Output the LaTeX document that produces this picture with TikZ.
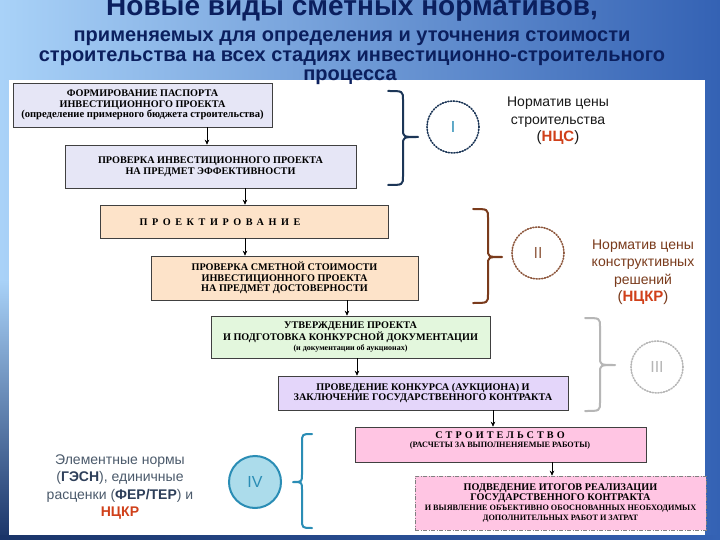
\documentclass[tikz,border=0pt]{standalone}
\usepackage{fontspec}
\setmainfont{Liberation Serif}
\newfontfamily\arialf{Liberation Sans}
\usetikzlibrary{arrows.meta}
\definecolor{bgL}{HTML}{A9D2F8}
\definecolor{bgR}{HTML}{3462B4}
\definecolor{bgD}{HTML}{1A3468}
\definecolor{titleblue}{HTML}{0B1F5E}
\definecolor{lav}{HTML}{E6E6F6}
\definecolor{peach}{HTML}{FDE3C9}
\definecolor{mint}{HTML}{E3F7DD}
\definecolor{lilac}{HTML}{E4D6FA}
\definecolor{pinkb}{HTML}{FFC5E3}
\definecolor{navyb}{HTML}{1C3657}
\definecolor{brownb}{HTML}{7A3B1C}
\definecolor{greyb}{HTML}{B6B6B6}
\definecolor{tealb}{HTML}{2A8DB5}
\definecolor{tealfill}{HTML}{ACDCEB}
\definecolor{redt}{HTML}{D0401A}
\definecolor{slate}{HTML}{4B5A6B}
\definecolor{slated}{HTML}{2E3F5A}
\newcommand{\bxf}{\fontsize{10.2}{10.6}\selectfont\bfseries}
\newcommand{\smf}{\fontsize{8.2}{9}\selectfont\bfseries}
\tikzset{
  boxst/.style={draw=black!75, line width=0.6pt, inner sep=1pt, align=center, font=\bxf},
  arr/.style={-{Stealth[length=5pt,width=4.5pt]}, line width=0.6pt, black},
  sub/.style={anchor=base, text=titleblue, font=\arialf\bfseries\fontsize{20}{22}\selectfont},
  bracest/.style={line width=2pt, line cap=round, line join=round},
  numc/.style={circle, minimum size=52pt, inner sep=0pt, font=\arialf\fontsize{16}{18}\selectfont},
  dotc/.style={dash pattern=on 1.2pt off 1.6pt, line width=1.6pt, line cap=round},
  sidet/.style={align=center, font=\arialf\fontsize{14}{17.5}\selectfont}
}
\begin{document}
\begin{tikzpicture}[x=1pt,y=-1pt]
\useasboundingbox (0,0) rectangle (720,540);
\shade[left color=bgL, right color=bgR] (0,0) rectangle (720,540);
\shade[top color=bgL, bottom color=bgD] (0,280) rectangle (9,540);
\shade[left color=bgD, right color=bgR] (0,535) rectangle (720,540);
\fill[white] (9,80) rectangle (705,535);

% title
\node[anchor=base, text=titleblue, font=\arialf\bfseries\fontsize{28}{30}\selectfont] (title) at (352,16) {Новые виды сметных нормативов,};
\node[sub] (s1) at (352,42) {применяемых для определения и уточнения стоимости};
\node[sub] (s2) at (352,61.5) {строительства на всех стадиях инвестиционно-строительного};
\node[sub] (s3) at (350,81) {процесса};

% boxes
\node[boxst, fill=lav, minimum width=259pt, minimum height=44pt] (b1) at (142.5,105)
  {ФОРМИРОВАНИЕ ПАСПОРТА\\ИНВЕСТИЦИОННОГО ПРОЕКТА\\\fontsize{10.6}{10.6}\selectfont (определение примерного бюджета строительства)};
\node[boxst, fill=lav, minimum width=291pt, minimum height=43pt] (b2) at (210.5,166.5)
  {ПРОВЕРКА ИНВЕСТИЦИОННОГО ПРОЕКТА\\НА ПРЕДМЕТ ЭФФЕКТИВНОСТИ};
\node[boxst, fill=peach, minimum width=288pt, minimum height=33pt] (b3) at (244,221.5) {};
\node[font=\bxf\addfontfeature{LetterSpace=45}] (b3t) at (220,222) {ПРОЕКТИРОВАНИЕ};
\node[boxst, fill=peach, minimum width=267pt, minimum height=44pt] (b4) at (284.5,278)
  {ПРОВЕРКА СМЕТНОЙ СТОИМОСТИ\\ИНВЕСТИЦИОННОГО ПРОЕКТА\\НА ПРЕДМЕТ ДОСТОВЕРНОСТИ};
\node[boxst, fill=mint, minimum width=279pt, minimum height=42pt] (b5) at (350.5,337)
  {УТВЕРЖДЕНИЕ ПРОЕКТА\\И ПОДГОТОВКА КОНКУРСНОЙ ДОКУМЕНТАЦИИ\\\fontsize{8}{10.6}\selectfont (и документации об аукционах)};
\node[boxst, fill=lilac, minimum width=290pt, minimum height=34pt] (b6) at (423,393)
  {ПРОВЕДЕНИЕ КОНКУРСА (АУКЦИОНА) И\\ЗАКЛЮЧЕНИЕ ГОСУДАРСТВЕННОГО КОНТРАКТА};
\node[boxst, fill=pinkb, minimum width=291pt, minimum height=35pt] (b7) at (500.5,444.5) {};
\node[align=center, font=\bxf, inner sep=0pt] (b7t) at (500,440.5)
  {{\addfontfeature{LetterSpace=30}СТРОИТЕЛЬСТВО}\\[-1pt]\smf (РАСЧЕТЫ ЗА ВЫПОЛНЕНЯЕМЫЕ РАБОТЫ)};
\node[boxst, draw=black!50, dash pattern=on 4pt off 1.5pt on 1pt off 1.5pt, fill=pinkb, minimum width=291pt, minimum height=54pt] (b8) at (560.5,503)
  {ПОДВЕДЕНИЕ ИТОГОВ РЕАЛИЗАЦИИ\\ГОСУДАРСТВЕННОГО КОНТРАКТА\\[-1pt]\smf И ВЫЯВЛЕНИЕ ОБЪЕКТИВНО ОБОСНОВАННЫХ НЕОБХОДИМЫХ\\\smf ДОПОЛНИТЕЛЬНЫХ РАБОТ И ЗАТРАТ};

% arrows
\draw[arr] (b1.south -| 207,0) -- (b2.north -| 207,0);
\draw[arr] (b2.south -| 245,0) -- (b3.north -| 245,0);
\draw[arr] (b3.south -| 245,0) -- (b4.north -| 245,0);
\draw[arr] (b4.south -| 347,0) -- (b5.north -| 347,0);
\draw[arr] (b5.south -| 357,0) -- (b6.north -| 357,0);
\draw[arr] (b6.south -| 493,0) -- (b7.north -| 493,0);
\draw[arr] (b7.south -| 552,0) -- (b8.north -| 552,0);

% braces
\draw[bracest, navyb] (388,91) .. controls (403,91) .. (403,100) -- (403,129) .. controls (403,137) .. (418,137)
  .. controls (403,137) .. (403,145) -- (403,176) .. controls (403,185) .. (388,185);
\draw[bracest, brownb] (473,209) .. controls (488,209) .. (488,218) -- (488,249) .. controls (488,257) .. (502,257)
  .. controls (488,257) .. (488,265) -- (488,294) .. controls (488,303) .. (473,303);
\draw[bracest, greyb] (585,318) .. controls (600,318) .. (600,327) -- (600,357) .. controls (600,365) .. (615,365)
  .. controls (600,365) .. (600,373) -- (600,402) .. controls (600,411) .. (585,411);
\draw[bracest, tealb] (312,434) .. controls (302,434) .. (302,443) -- (302,474) .. controls (302,482) .. (293,482)
  .. controls (302,482) .. (302,490) -- (302,519) .. controls (302,528) .. (312,528);

% circles
\node[numc, draw=navyb, dotc, text=tealb] (c1) at (453,127) {I};
\node[numc, draw=brownb!85, dotc, text=brownb!80] (c2) at (538,253) {II};
\node[numc, draw=greyb, dotc, text=greyb] (c3) at (657,367) {III};
\node[numc, draw=tealb, line width=2pt, fill=tealfill, text=tealb] (c4) at (255,482) {IV};

% side texts
\node[sidet, text=black!90] (n1) at (558,121)
  {Норматив цены\\строительства\\\fontsize{15}{17.5}\selectfont(\textcolor{redt}{\bfseries НЦС})};
\node[sidet, text=brownb] (n2) at (643,272)
  {Норматив цены\\конструктивных\\решений\\\fontsize{15}{17.5}\selectfont(\textcolor{redt}{\bfseries НЦКР})};
\node[sidet, text=slate] (n4) at (120,487)
  {Элементные нормы\\(\textcolor{slated}{\bfseries ГЭСН}), единичные\\расценки (\textcolor{slated}{\bfseries ФЕР/ТЕР}) и\\\textcolor{redt}{\bfseries НЦКР}};
\end{tikzpicture}
\end{document}
